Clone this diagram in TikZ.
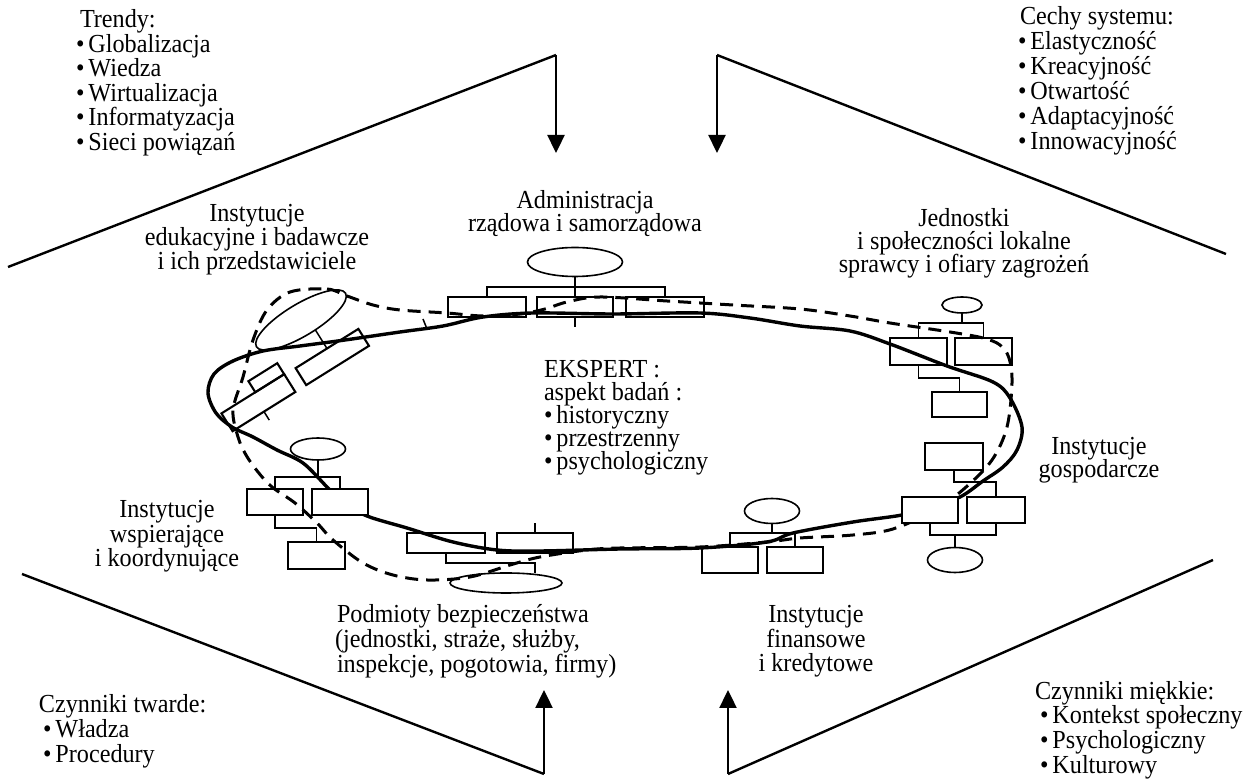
\documentclass[tikz,border=0pt]{standalone}
\usepackage{fontspec}
\setmainfont{Liberation Serif}[FakeStretch=0.93]
\usetikzlibrary{shapes.geometric,arrows.meta}
\newcommand\diafont{\fontsize{13pt}{12.25pt}\selectfont}
\newcommand\bul{•\hspace{2pt}}
\begin{document}
\begin{tikzpicture}[x=0.5pt,y=-0.5pt,
  txt/.style={font=\diafont, inner sep=0pt, outer sep=0pt, anchor=base},
  txtw/.style={txt, anchor=base west},
  bx/.style 2 args={draw, rectangle, line width=1.05pt, inner sep=0pt, outer sep=0pt, minimum width=#1*0.5pt, minimum height=#2*0.5pt},
  el/.style 2 args={draw, ellipse, line width=0.8pt, inner sep=0pt, outer sep=0pt, minimum width=#1*0.5pt, minimum height=#2*0.5pt},
  lnk/.style={line width=0.75pt},
  frameline/.style={line width=1.2pt},
  arr/.style={line width=1.2pt, -{Triangle[length=9pt,width=8.5pt]}},
  solidc/.style={line width=1.7pt, line join=round},
  dashc/.style={line width=1.5pt, dash pattern=on 6.5pt off 4pt},
]
\useasboundingbox (0,0) rectangle (1248,779);

% ---- frame lines and arrows ----
\coordinate (tlA) at (8,267);
\coordinate (tlV) at (556,55);
\coordinate (tlT) at (556,153);
\coordinate (trV) at (717,55);
\coordinate (trB) at (1226,254);
\coordinate (trT) at (717,153);
\coordinate (blA) at (22,574);
\coordinate (blV) at (544,774);
\coordinate (blT) at (544,690);
\coordinate (brV) at (728,774);
\coordinate (brB) at (1213,560);
\coordinate (brT) at (728,690);
\draw[frameline] (tlA) -- (tlV);
\draw[arr] (tlV) -- (tlT);
\draw[frameline] (trB) -- (trV);
\draw[arr] (trV) -- (trT);
\draw[frameline] (blA) -- (blV);
\draw[arr] (blV) -- (blT);
\draw[frameline] (brB) -- (brV);
\draw[arr] (brV) -- (brT);

% ---- the two closed curves ----
\draw[solidc] plot[smooth cycle, tension=0.55] coordinates {
 (208,393) (214,374) (233,361) (263,351) (300,346) (345,340) (400,332) (443,326)
 (483,317) (533,313) (613,314) (700,313) (750,318) (800,326) (850,331) (890,344)
 (947,366) (993,382) (1010,398) (1022,427) (1017,450) (1003,467) (983,481) (960,497)
 (930,507) (902,515) (853,522) (793,533) (767,542) (700,548) (620,549) (540,551)
 (497,550) (453,542) (407,528) (367,516) (342,502) (327,487) (303,463) (277,450)
 (253,437) (232,427) (216,413)};
\draw[dashc] plot[smooth cycle, tension=0.55] coordinates {
 (290,292) (327,289) (347,296) (373,305) (400,310) (447,313) (483,316) (520,314)
 (545,309) (567,302) (600,297) (667,301) (733,305) (800,309) (850,316) (890,323)
 (950,332) (983,338) (1000,345) (1009,358) (1012,383) (1007,427) (992,460) (965,488)
 (935,510) (893,529) (853,535) (800,538) (767,542) (700,547) (620,548) (587,550)
 (540,557) (510,565) (470,577) (427,580) (393,575) (363,563) (333,540) (317,523)
 (295,503) (272,487) (258,472) (246,455) (238,437) (233,410) (243,377) (253,340)
 (267,310)};
\draw[lnk] (423,319) -- (427,329);

% ---- Administracja cluster ----
\node[el={95}{29}] (ellA) at (575,262) {};
\node[bx={78}{20}] (A1) at (487,307) {};
\node[bx={76}{20}] (A2) at (575,307) {};
\node[bx={78}{20}] (A3) at (665,307) {};
\draw[lnk] (ellA.south) -- (A2.north);
\draw[lnk] (A1.north) -- ++(0,-10) -| (A3.north);
\draw[lnk] (A2.south) -- ++(0,10);

% ---- Jednostki cluster ----
\node[el={40}{16}] (ellJ) at (962,305) {};
\node[bx={57}{27}] (J1) at (918.5,351.5) {};
\node[bx={57}{27}] (J2) at (983.5,351.5) {};
\draw[lnk] (ellJ.south) -- ++(0,10);
\draw[lnk] (J1.north) -- ++(0,-15) -| (J2.north);
\node[bx={55}{25}] (J3) at (959.5,404.5) {};
\draw[lnk] (J1.south) -- ++(0,13) -| (J3.north);
\node[bx={58}{27}] (J4) at (954,456.5) {};
\node[bx={56}{26}, fill=white] (J5) at (930,510) {};
\node[bx={58}{26}] (J6) at (996,510) {};
\draw[lnk] (J4.south) -- ++(0,12) -| (J6.north);
\node[el={55}{25}] (ellJb) at (955,560) {};
\draw[lnk] (J5.south) -- ++(0,12) -| (J6.south);
\draw[lnk] (ellJb.north) -- ++(0,-12);

% ---- finansowe cluster ----
\node[el={55}{25}] (ellF) at (772,511) {};
\node[bx={56}{26}] (F1) at (730,560) {};
\node[bx={56}{26}] (F2) at (795,560) {};
\draw[lnk] (ellF.south) -- ++(0,10);
\draw[lnk] (F1.north) -- ++(0,-14) -| (F2.north);

% ---- Podmioty cluster ----
\node[bx={78}{20}] (P1) at (446,543) {};
\node[bx={76}{20}] (P2) at (535,543) {};
\node[el={112}{20}] (ellP) at (506,583) {};
\draw[lnk] (P2.north) -- ++(0,-10);
\draw[lnk] (P1.south) -- ++(0,10) -| (P2.south |- ellP.north);

% ---- wspierajace cluster ----
\node[el={55}{22}] (ellW) at (318,449) {};
\node[bx={56}{26}] (W1) at (275,502) {};
\node[bx={56}{26}, fill=white] (W2) at (340,502) {};
\node[bx={57}{27}] (W3) at (316.5,555.5) {};
\draw[lnk] (ellW.south) -- ++(0,17);
\draw[lnk] (W1.north) -- ++(0,-12) -| (W2.north);
\draw[lnk] (W1.south) -- ++(0,13) -| (W3.north);

% ---- edukacyjne (tilted) cluster ----
\node[el={104}{32}, rotate=31] (ellE) at (301,320) {};
\node[bx={74}{20}, rotate=32] (EA) at (332.3,357) {};
\node[bx={74}{21}, rotate=32] (EC) at (258.4,402.7) {};
\node[bx={34}{13}, rotate=32] (EB) at (266.3,377.7) {};
\draw[lnk] (EA.north) -- ++(-11.7,-18.7);
\draw[lnk] (EC.south) -- ++(5.3,8.5);

% ---- texts ----
\node[txtw] (tr0) at (80,28) {Trendy:};
\node[txtw] (tr1) at (76,52.5) {\bul Globalizacja};
\node[txtw] (tr2) at (76,77) {\bul Wiedza};
\node[txtw] (tr3) at (76,101.5) {\bul Wirtualizacja};
\node[txtw] (tr4) at (76,126) {\bul Informatyzacja};
\node[txtw] (tr5) at (76,150.5) {\bul Sieci powiązań};

\node[txtw] (ce0) at (1020,25) {Cechy systemu:};
\node[txtw] (ce1) at (1018,50) {\bul Elastyczność};
\node[txtw] (ce2) at (1018,75) {\bul Kreacyjność};
\node[txtw] (ce3) at (1018,100) {\bul Otwartość};
\node[txtw] (ce4) at (1018,125) {\bul Adaptacyjność};
\node[txtw] (ce5) at (1018,150) {\bul Innowacyjność};

\node[txt] (ed1) at (257,222) {Instytucje};
\node[txt] (ed2) at (257,246) {edukacyjne i badawcze};
\node[txt] (ed3) at (257,270) {i ich przedstawiciele};

\node[txt] (ad1) at (585,209) {Administracja};
\node[txt] (ad2) at (585,232) {rządowa i samorządowa};

\node[txt] (je1) at (964,227) {Jednostki};
\node[txt] (je2) at (964,250) {i społeczności lokalne};
\node[txt] (je3) at (964,273) {sprawcy i ofiary zagrożeń};

\node[txtw] (ek1) at (544,378) {EKSPERT :};
\node[txtw] (ek2) at (544,401) {aspekt badań :};
\node[txtw] (ek3) at (544,424) {\bul historyczny};
\node[txtw] (ek4) at (544,447) {\bul przestrzenny};
\node[txtw] (ek5) at (544,470) {\bul psychologiczny};

\node[txt] (go1) at (1099,455) {Instytucje};
\node[txt] (go2) at (1099,478) {gospodarcze};

\node[txt] (ws1) at (167,518) {Instytucje};
\node[txt] (ws2) at (167,543) {wspierające};
\node[txt] (ws3) at (167,567) {i koordynujące};

\node[txtw] (po1) at (337,623) {Podmioty bezpieczeństwa};
\node[txtw] (po2) at (335,648) {(jednostki, straże, służby,};
\node[txtw] (po3) at (337,673) {inspekcje, pogotowia, firmy)};

\node[txt] (fi1) at (816,623) {Instytucje};
\node[txt] (fi2) at (816,648) {finansowe};
\node[txt] (fi3) at (816,672) {i kredytowe};

\node[txtw] (tw0) at (39,713) {Czynniki twarde:};
\node[txtw] (tw1) at (43,738) {\bul Władza};
\node[txtw] (tw2) at (43,763) {\bul Procedury};

\node[txtw] (mi0) at (1035,700) {Czynniki miękkie:};
\node[txtw] (mi1) at (1040,724) {\bul Kontekst społeczny};
\node[txtw] (mi2) at (1040,749) {\bul Psychologiczny};
\node[txtw] (mi3) at (1040,774) {\bul Kulturowy};
\end{tikzpicture}
\end{document}
